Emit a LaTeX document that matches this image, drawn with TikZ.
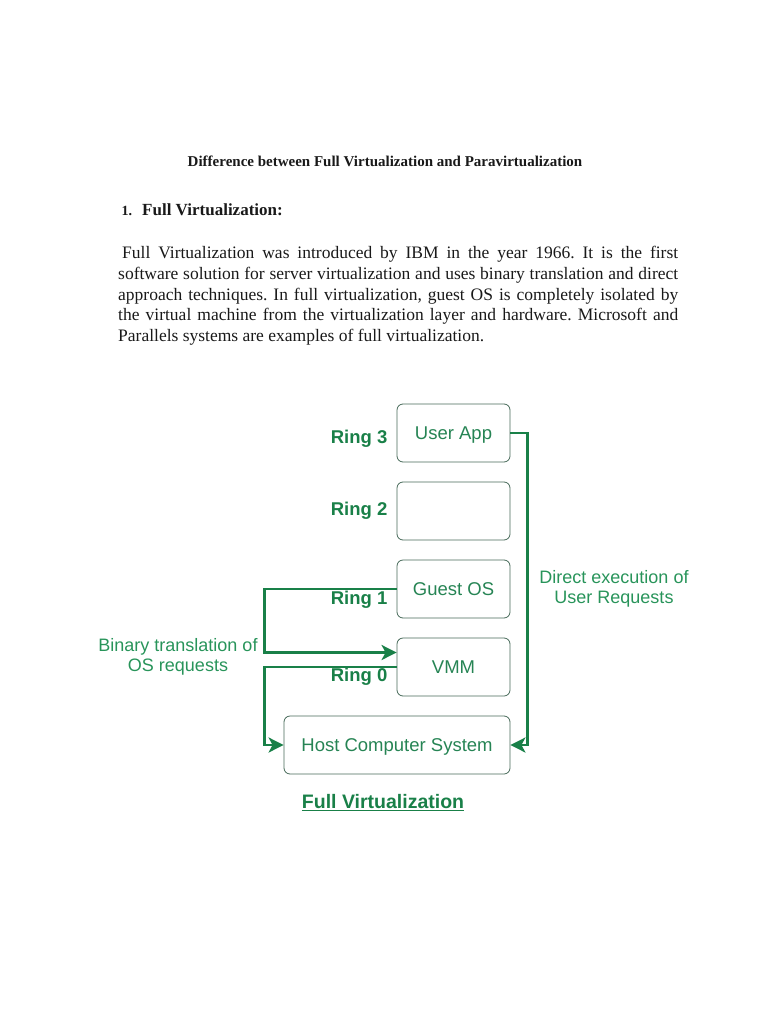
\documentclass[tikz,border=0pt]{standalone}
\usepackage{fontspec}
\setmainfont{Liberation Serif}
\setsansfont{Liberation Sans}
\usetikzlibrary{arrows.meta}
\usetikzlibrary{positioning}

\definecolor{ringgreen}{RGB}{25,128,72}
\definecolor{boxline}{RGB}{70,105,88}
\definecolor{boxtext}{RGB}{38,132,84}
\definecolor{notegreen}{RGB}{40,148,90}
\definecolor{bodytext}{RGB}{25,25,25}

\begin{document}
\frenchspacing
\begin{tikzpicture}[x=1pt,y=-1pt]
\tikzset{
   node distance = 78pt, >={Stealth[length=15pt, width=15pt, inset=4pt]},
   layer/.style = {rectangle, rounded corners = 6pt, draw = boxline, line width = 0.8pt, minimum width = 113pt, minimum height = 58pt,
                   text height = 13.5pt, text depth = 0.5pt, font = \sffamily\fontsize{18.5}{22}\selectfont, text = boxtext},
   host/.style = {layer, minimum width = 226pt},
   ringlabel/.style = {font = \sffamily\bfseries\fontsize{18.5}{22}\selectfont, text = ringgreen, inner sep = 0pt},
   note/.style = {font = \sffamily\fontsize{18}{20.5}\selectfont, text = notegreen, align = center},
   conn/.style = {draw = ringgreen, line width = 2.8pt}
 }
  \useasboundingbox (0,0) rectangle (768,1024);

  % text above the picture
  \node[font = \bfseries\fontsize{15}{18}\selectfont, text = bodytext] (title) at (385,161) {Difference between Full Virtualization and Paravirtualization};
  \node[anchor = base west, font = \bfseries\fontsize{14}{17}\selectfont, text = bodytext] (num) at (118,216) {1.};
  \node[anchor = base west, font = \bfseries\fontsize{17}{20}\selectfont, text = bodytext, inner sep = 0pt] (heading) at (142,216) {Full Virtualization:};
  \node[anchor = north west, text width = 560pt, inner sep = 0pt, align = justify, text = bodytext,
        font = \fontsize{17.5}{20.75}\selectfont] (para) at (118,246)
        {\hspace*{4pt}Full Virtualization was introduced by IBM in the year 1966. It is the first\linebreak
         software solution for server virtualization and uses binary translation and direct\linebreak
         approach techniques. In full virtualization, guest OS is completely isolated by\linebreak
         the virtual machine from the virtualization layer and hardware. Microsoft and\linebreak
         Parallels systems are examples of full virtualization.};

  % rings
  \node[layer] (userapp) at (453.5,433) {User App};
  \node[layer] (ringtwo) [below of = userapp] {};
  \node[layer] (guest) [below of = ringtwo] {Guest OS};
  \node[layer] (vmm) [below of = guest] {VMM};
  \node[host] (host) [below of = vmm, xshift = -56.5pt] {Host Computer System};

  \node[ringlabel] (ring3) [left = 9pt of userapp, yshift = -6pt] {Ring 3};
  \node[ringlabel] (ring2) [left = 9pt of ringtwo] {Ring 2};
  \node[ringlabel] (ring1) [left = 9pt of guest, yshift = -11pt] {Ring 1};
  \node[ringlabel] (ring0) [left = 9pt of vmm, yshift = -10pt] {Ring 0};

  \node[note] (binary) at (178,657) {Binary translation of\\OS requests};
  \node[note] (direct) at (614,589) {Direct execution of\\User Requests};

  \node[font = \sffamily\bfseries\fontsize{19.5}{23}\selectfont, text = ringgreen] (caption) at (383,803) {\underline{Full Virtualization}};

  % connectors
  \draw[conn, ->] (userapp.east) -- ++(17,0) |- (host.east);
  \draw[conn, ->] (guest.west) -- ++(-132,0) |- ([yshift = 14.5pt]vmm.west);
  \draw[conn, ->] (vmm.west) -- ++(-132,0) |- (host.west);

\end{tikzpicture}
\end{document}
